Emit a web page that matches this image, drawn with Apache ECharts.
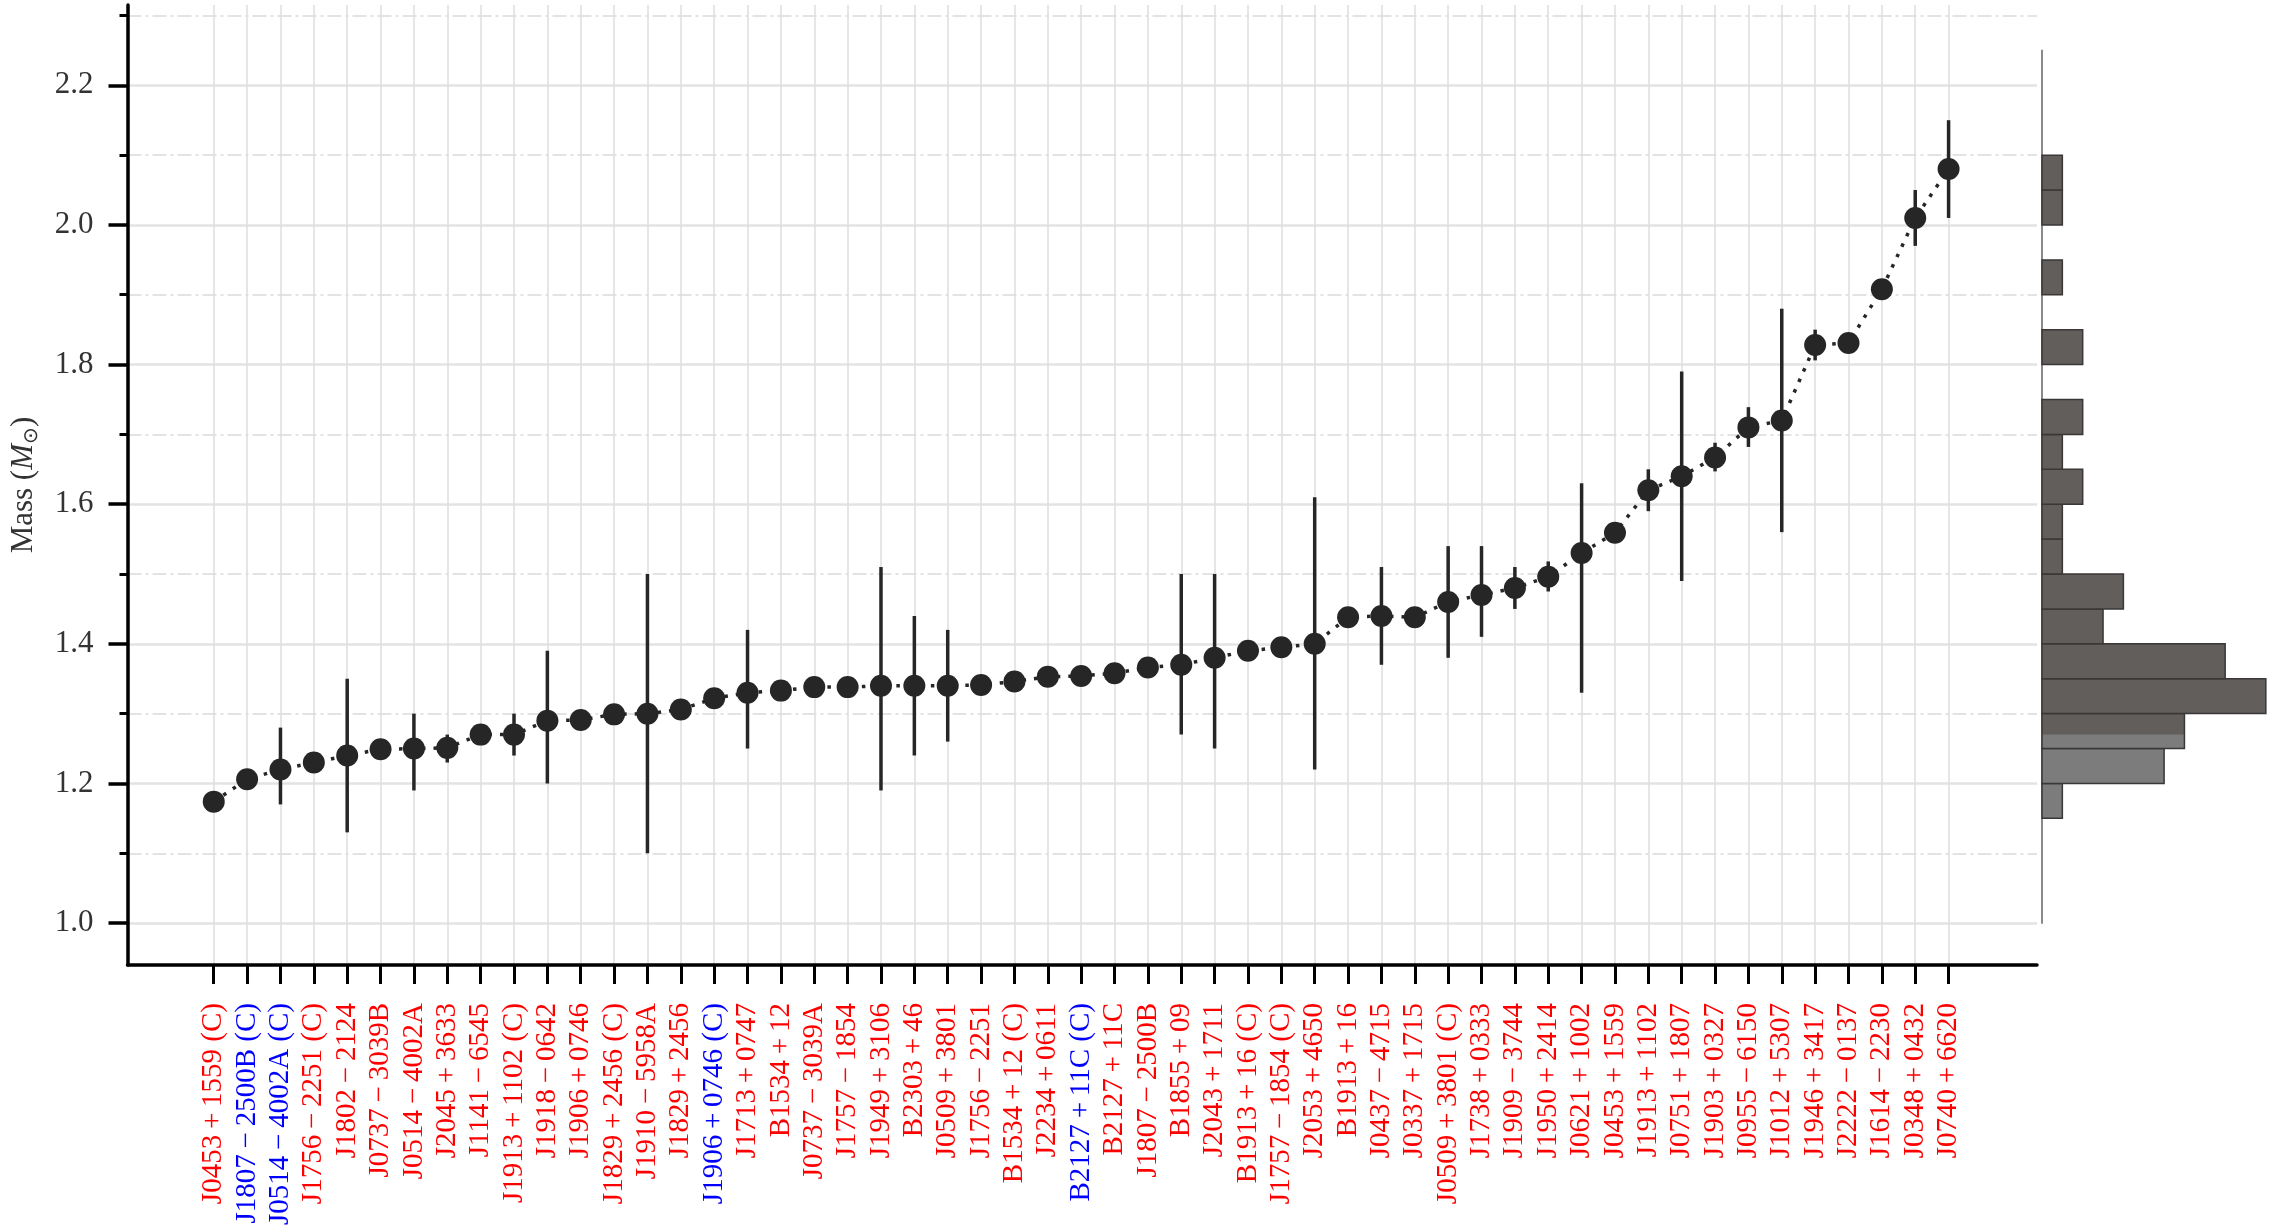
<!DOCTYPE html>
<html><head><meta charset="utf-8">
<script src="https://cdn.jsdelivr.net/npm/echarts@6/dist/echarts.min.js"></script>
<style>html,body{margin:0;padding:0;background:#fff}#c{width:2275px;height:1230px}</style>
</head><body><div id="c"></div>
<script>
// ---------- data ----------
const pulsars = [
  'J0453+1559 (C)','J1807−2500B (C)','J0514−4002A (C)','J1756−2251 (C)','J1802−2124',
  'J0737−3039B','J0514−4002A','J2045+3633','J1141−6545','J1913+1102 (C)',
  'J1918−0642','J1906+0746','J1829+2456 (C)','J1910−5958A','J1829+2456',
  'J1906+0746 (C)','J1713+0747','B1534+12','J0737−3039A','J1757−1854',
  'J1949+3106','B2303+46','J0509+3801','J1756−2251','B1534+12 (C)',
  'J2234+0611','B2127+11C (C)','B2127+11C','J1807−2500B','B1855+09',
  'J2043+1711','B1913+16 (C)','J1757−1854 (C)','J2053+4650','B1913+16',
  'J0437−4715','J0337+1715','J0509+3801 (C)','J1738+0333','J1909−3744',
  'J1950+2414','J0621+1002','J0453+1559','J1913+1102','J0751+1807',
  'J1903+0327','J0955−6150','J1012+5307','J1946+3417','J2222−0137',
  'J1614−2230','J0348+0432','J0740+6620'
];
const labelColor = [
  'r','b','b','r','r', 'r','r','r','r','r', 'r','r','r','r','r',
  'b','r','r','r','r', 'r','r','r','r','r', 'r','b','r','r','r',
  'r','r','r','r','r', 'r','r','r','r','r', 'r','r','r','r','r',
  'r','r','r','r','r', 'r','r','r'
];
const masses = [
  1.174,1.206,1.22,1.23,1.24, 1.249,1.25,1.251,1.27,1.27,
  1.29,1.291,1.299,1.30,1.306, 1.322,1.33,1.333,1.338,1.338,
  1.34,1.34,1.34,1.341,1.346, 1.353,1.354,1.358,1.366,1.37,
  1.38,1.39,1.395,1.40,1.438, 1.44,1.438,1.46,1.47,1.48,
  1.496,1.53,1.559,1.62,1.64, 1.667,1.71,1.72,1.828,1.831,
  1.908,2.01,2.08
];
const errLow = [
  null,null,1.17,null,1.13, null,1.19,1.23,null,1.24,
  1.20,null,null,1.10,null, null,1.25,null,null,null,
  1.19,1.24,1.26,null,null, null,null,null,null,1.27,
  1.25,null,null,1.22,null, 1.37,null,1.38,1.41,1.45,
  1.475,1.33,null,1.59,1.49, 1.647,1.682,1.56,1.806,null,
  null,1.97,2.01
];
const errHigh = [
  null,null,1.28,null,1.35, null,1.30,1.27,null,1.30,
  1.39,null,null,1.50,null, null,1.42,null,null,null,
  1.51,1.44,1.42,null,null, null,null,null,null,1.50,
  1.50,null,null,1.61,null, 1.51,null,1.54,1.54,1.51,
  1.518,1.63,null,1.65,1.79, 1.688,1.739,1.88,1.85,null,
  null,2.05,2.15
];
const yMajorTicks = [1.0,1.2,1.4,1.6,1.8,2.0,2.2];
const yMinorTicks = [1.1,1.3,1.5,1.7,1.9,2.1,2.3];
const histBinLo = [1.15,1.20,1.25,1.30,1.35,1.40,1.45,1.50,1.55,1.60,1.65,1.70,1.75,1.80,1.85,1.90,1.95,2.00,2.05];
const histBinHi = [1.20,1.25,1.30,1.35,1.40,1.45,1.50,1.55,1.60,1.65,1.70,1.75,1.80,1.85,1.90,1.95,2.00,2.05,2.10];
const histCounts = [1,6,7,11,9,3,4,1,1,2,1,2,0,2,0,1,0,1,1];
const histLightBelow = 1.27;

// ---------- chart ----------
const FONT = 'Liberation Serif';
const xIdx = pulsars.map((_, i) => i);
const lineData = masses.map((m, i) => [i, m]);
const errData = [];
errLow.forEach((lo, i) => { if (lo !== null) errData.push([i, lo, errHigh[i]]); });
const histData = histCounts.map((c, k) => [histBinLo[k], histBinHi[k], c]);
// math-style spacing around binary operators, as in the typeset labels
const spaced = s => s.replace(/([+−])/g, '\u2009$1\u2009');

const chart = echarts.init(document.getElementById('c'), null, {renderer: 'canvas'});
chart.setOption({
  animation: false,
  backgroundColor: '#fff',
  grid: [
    {left: 126, right: 238, top: 5, bottom: 265},
    {left: 2042, right: 0, top: 50.5, bottom: 307}
  ],
  xAxis: [
    {
      type: 'value', gridIndex: 0, min: -2.585, max: 54.65,
      axisLine: {show: true, onZero: false, lineStyle: {color: '#000', width: 3.5}},
      axisTick: {show: true, customValues: xIdx, length: 19, lineStyle: {color: '#000', width: 3}},
      axisLabel: {
        show: true, customValues: xIdx, rotate: 90, margin: 38,
        formatter: v => { const i = Math.round(v); return '{' + labelColor[i] + '|' + spaced(pulsars[i]) + '}'; },
        rich: {
          r: {color: '#ff0000', fontFamily: FONT, fontSize: 29},
          b: {color: '#0000ff', fontFamily: FONT, fontSize: 29}
        }
      },
      splitLine: {show: true, lineStyle: {color: '#dedede', width: 1.5}}
    },
    {
      type: 'value', gridIndex: 1, min: 0, max: 11.45, show: false
    }
  ],
  yAxis: [
    {
      type: 'value', gridIndex: 0, min: 0.94, max: 2.315,
      name: 'Mass ({i|M}{s|⊙})', nameLocation: 'middle', nameGap: 86, nameRotate: 90,
      nameTextStyle: {
        fontFamily: FONT, fontSize: 31, color: '#333',
        rich: {
          i: {fontFamily: FONT, fontSize: 31, fontStyle: 'italic', color: '#333'},
          s: {fontFamily: FONT, fontSize: 20, color: '#333', padding: [16, 0, 0, 0]}
        }
      },
      axisLine: {show: true, onZero: false, lineStyle: {color: '#000', width: 3.5}},
      axisTick: {show: true, customValues: yMajorTicks, length: 19, lineStyle: {color: '#000', width: 3.5}},
      axisLabel: {show: true, customValues: yMajorTicks, margin: 34, formatter: v => v.toFixed(1),
        fontFamily: FONT, fontSize: 31, color: '#333'},
      splitLine: {show: true, lineStyle: {color: '#e3e3e3', width: 2.5}}
    },
    {
      type: 'value', gridIndex: 0, min: 0.94, max: 2.315, position: 'left',
      axisLine: {show: false, onZero: false},
      axisTick: {show: true, customValues: yMinorTicks, length: 8, lineStyle: {color: '#000', width: 3}},
      axisLabel: {show: false, customValues: yMinorTicks},
      splitLine: {show: true, lineStyle: {color: '#e3e3e3', width: 2, type: [14, 4, 3, 4]}}
    },
    {
      type: 'value', gridIndex: 1, min: 1.0, max: 2.25,
      axisLine: {show: true, onZero: false, lineStyle: {color: '#8a8a8a', width: 2}},
      axisTick: {show: false}, axisLabel: {show: false}, splitLine: {show: false}
    }
  ],
  series: [
    {
      type: 'custom', xAxisIndex: 0, yAxisIndex: 0, data: errData, z: 3,
      encode: {x: 0, y: [1, 2]},
      renderItem: (params, api) => {
        const i = api.value(0);
        const a = api.coord([i, api.value(1)]);
        const b = api.coord([i, api.value(2)]);
        return {type: 'line', shape: {x1: a[0], y1: a[1], x2: b[0], y2: b[1]},
          style: {stroke: '#262626', lineWidth: 3.5}};
      }
    },
    {
      type: 'line', xAxisIndex: 0, yAxisIndex: 0, data: lineData, z: 4,
      symbol: 'circle', symbolSize: 22, showSymbol: true,
      itemStyle: {color: '#262626'},
      lineStyle: {color: '#262626', width: 3.5, type: [3.5, 8]}
    },
    {
      type: 'custom', xAxisIndex: 1, yAxisIndex: 2, data: histData, z: 3,
      encode: {x: 2, y: [0, 1]},
      renderItem: (params, api) => {
        const lo = api.value(0), hi = api.value(1), n = api.value(2);
        if (!n) return null;
        const p0 = api.coord([0, hi]);
        const p1 = api.coord([n, lo]);
        const w = p1[0] - p0[0];
        const children = [{type: 'rect', shape: {x: p0[0], y: p0[1], width: w, height: p1[1] - p0[1]},
          style: {fill: '#625e5c'}}];
        if (lo < histLightBelow) {
          const q = api.coord([n, Math.min(hi, histLightBelow)]);
          children.push({type: 'rect', shape: {x: p0[0], y: q[1], width: w, height: p1[1] - q[1]},
            style: {fill: '#7c7c7c'}});
        }
        children.push({type: 'rect', shape: {x: p0[0], y: p0[1], width: w, height: p1[1] - p0[1]},
          style: {fill: null, stroke: '#3a3736', lineWidth: 1.5}});
        return {type: 'group', children: children};
      }
    }
  ]
});
</script>
</body></html>
